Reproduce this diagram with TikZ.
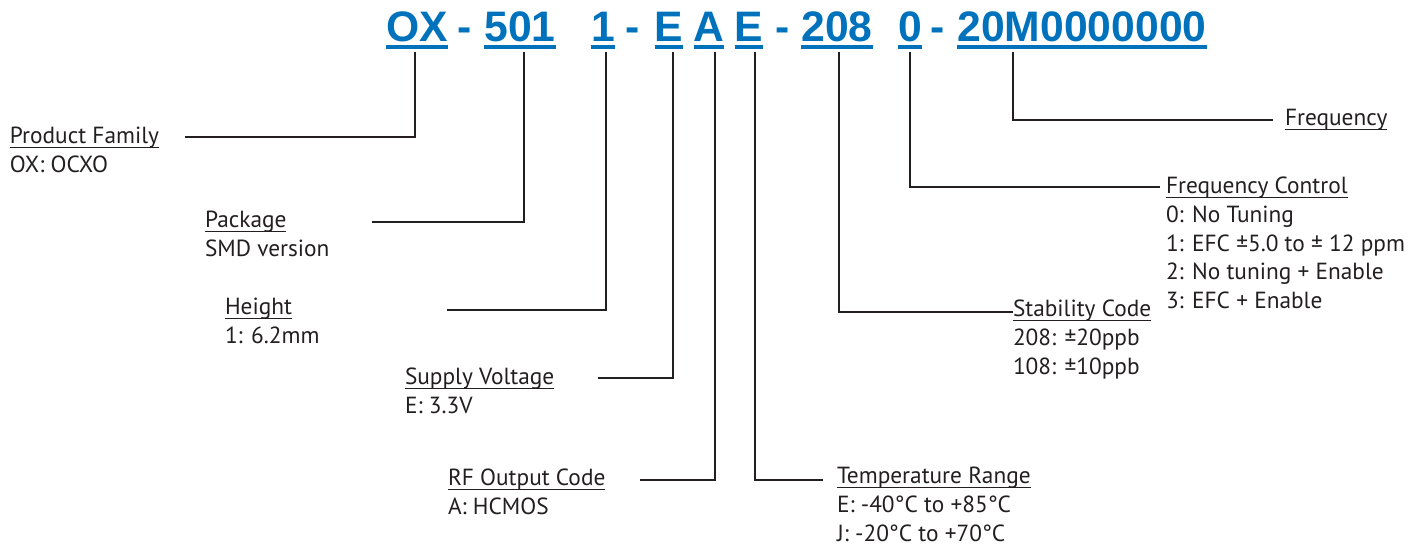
\documentclass[tikz,border=0pt]{standalone}
\usepackage{fontspec}
\setmainfont{PT Sans}
\newfontfamily\codefont{Liberation Sans}
\usepackage{xcolor}
\usetikzlibrary{calc}

\definecolor{codeBlue}{RGB}{0,114,188}
\definecolor{inkBlack}{RGB}{35,31,32}

\begin{document}
\begin{tikzpicture}[
    x=0.75pt, y=-0.75pt,
    every node/.style={inner sep=0pt, outer sep=0pt},
    code/.style={font=\codefont\bfseries\fontsize{32}{36}\selectfont, text=codeBlue, anchor=base},
    codeSep/.style={font=\codefont\bfseries\fontsize{32}{36}\selectfont, text=codeBlue, anchor=base},
    codeLine/.style={draw=codeBlue, line width=3pt},
    title/.style={font=\fontsize{17.5}{20}\selectfont, text=inkBlack, anchor=base west},
    desc/.style={font=\fontsize{17.5}{20}\selectfont, text=inkBlack, anchor=base west},
    titleLine/.style={draw=inkBlack, line width=1pt},
    lead/.style={draw=inkBlack, line width=1.9pt}
  ]
    \useasboundingbox (0,0) rectangle (1418,548);

    % part number
    \node[code] (ox) at (417,42) {OX};
    \node[codeSep] (s1) at (465,42) {-};
    \node[code] (pk) at (520,42) {501};
    \node[code] (ht) at (603,42) {1};
    \node[codeSep] (s2) at (633,42) {-};
    \node[code] (sv) at (669,42) {E};
    \node[code] (rf) at (709,42) {A};
    \node[code] (tr) at (749,42) {E};
    \node[codeSep] (s3) at (783,42) {-};
    \node[code] (st) at (837,42) {208};
    \node[code] (fc) at (910,42) {0};
    \node[codeSep] (s4) at (938,42) {-};
    \node[code] (fq) at (1082,42) {20M0000000};
    \foreach \n in {ox,pk,ht,sv,rf,tr,st,fc,fq}
      \draw[codeLine] ([yshift=-3.75pt]\n.base west) -- ([yshift=-3.75pt]\n.base east);

    % field titles
    \node[title] (famT) at (10,144) {Product Family};
    \node[title] (pkgT) at (205,228) {Package};
    \node[title] (hgtT) at (225,315) {Height};
    \node[title] (voltT) at (405,385) {Supply Voltage};
    \node[title] (rfT) at (448,486) {RF Output Code};
    \node[title] (tempT) at (837,484) {Temperature Range};
    \node[title] (stabT) at (1013,317) {Stability Code};
    \node[title] (fctlT) at (1166,194) {Frequency Control};
    \node[title] (freqT) at (1285,126) {Frequency};
    \foreach \n in {famT,pkgT,hgtT,voltT,rfT,tempT,stabT,fctlT,freqT}
      \draw[titleLine] ([yshift=-2.5pt]\n.base west) -- ([yshift=-2.5pt]\n.base east);

    % field values
    \node[desc] (fam1) at ([yshift=-21.4pt]famT.base west) {OX: OCXO};
    \node[desc] (pkg1) at ([yshift=-21.4pt]pkgT.base west) {SMD version};
    \node[desc] (hgt1) at ([yshift=-21.4pt]hgtT.base west) {1: 6.2mm};
    \node[desc] (volt1) at ([yshift=-21.4pt]voltT.base west) {E: 3.3V};
    \node[desc] (rf1) at ([yshift=-21.4pt]rfT.base west) {A: HCMOS};
    \node[desc] (temp1) at ([yshift=-21.4pt]tempT.base west) {E: -40°C to +85°C};
    \node[desc] (temp2) at ([yshift=-21.4pt]temp1.base west) {J: -20°C to +70°C};
    \node[desc] (stab1) at ([yshift=-21.4pt]stabT.base west) {208: ±20ppb};
    \node[desc] (stab2) at ([yshift=-21.4pt]stab1.base west) {108: ±10ppb};
    \node[desc] (fctl1) at ([yshift=-21.4pt]fctlT.base west) {0: No Tuning};
    \node[desc] (fctl2) at ([yshift=-21.4pt]fctl1.base west) {1: EFC ±5.0 to ± 12 ppm};
    \node[desc] (fctl3) at ([yshift=-21.4pt]fctl2.base west) {2: No tuning + Enable};
    \node[desc] (fctl4) at ([yshift=-21.4pt]fctl3.base west) {3: EFC + Enable};

    % leader ends
    \coordinate (famEnd) at (185,137);
    \coordinate (pkgEnd) at (372,222);
    \coordinate (hgtEnd) at (447,310);
    \coordinate (voltEnd) at (598,378);
    \coordinate (rfEnd) at (640,480);
    \coordinate (tempEnd) at (823,480);
    \coordinate (stabEnd) at (1013,312);
    \coordinate (fctlEnd) at (1160,187);
    \coordinate (freqEnd) at (1273,120);

    \draw[lead] ([xshift=-1.5pt, yshift=-7.5pt]ox.base) |- (famEnd);
    \draw[lead] ([xshift=3pt, yshift=-7.5pt]pk.base) |- (pkgEnd);
    \draw[lead] ([xshift=2.25pt, yshift=-7.5pt]ht.base) |- (hgtEnd);
    \draw[lead] ([xshift=3pt, yshift=-7.5pt]sv.base) |- (voltEnd);
    \draw[lead] ([xshift=4.5pt, yshift=-7.5pt]rf.base) |- (rfEnd);
    \draw[lead] ([xshift=4.5pt, yshift=-7.5pt]tr.base) |- (tempEnd);
    \draw[lead] ([xshift=1.5pt, yshift=-7.5pt]st.base) |- (stabEnd);
    \draw[lead] ([yshift=-7.5pt]fc.base) |- (fctlEnd);
    \draw[lead] ([xshift=-51.75pt, yshift=-7.5pt]fq.base) |- (freqEnd);
  \end{tikzpicture}
\end{document}
